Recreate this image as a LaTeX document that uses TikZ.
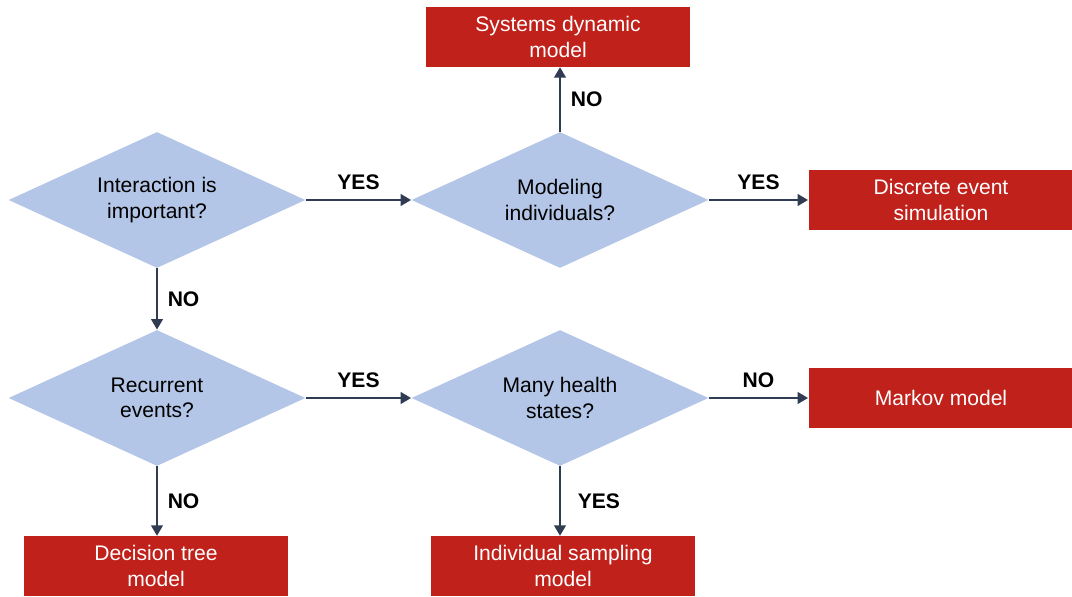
\documentclass[tikz,border=0pt]{standalone}
\usepackage{fontspec}
\setmainfont{Liberation Sans}
\usetikzlibrary{arrows.meta,shapes.geometric}
\definecolor{diamondblue}{HTML}{B4C6E7}
\definecolor{boxred}{HTML}{C0211B}
\definecolor{arrowgray}{HTML}{2F3C52}
\tikzstyle{decision}=[diamond,aspect=2.2,fill=diamondblue,minimum width=5.94cm,minimum height=2.72cm,inner sep=0pt,align=center,font=\fontsize{12}{14.5}\selectfont]
\tikzstyle{model}=[rectangle,fill=boxred,text=white,minimum width=5.3cm,minimum height=1.19cm,inner sep=0pt,align=center,font=\fontsize{12}{14.5}\selectfont]
\tikzstyle{edge} = [draw,line width=1.6pt,arrowgray,-{Triangle[length=6pt,width=6.5pt]}]
\tikzstyle{weight} = [font=\fontsize{12}{14}\selectfont\bfseries,text=black]

\begin{document}
\begin{tikzpicture}[x=0.02cm,y=-0.02cm]
    \useasboundingbox (0,0) rectangle (1072,597);

     \foreach \x/\y/\name/\txt in {157/200/inter/{Interaction is\\important?}, 560/200/indiv/{Modeling\\individuals?}, 157/398/recur/{Recurrent\\events?}, 560/398/many/{Many health\\states?}}
        \node[decision] (\name) at (\x,\y) {\txt};

     \foreach \x/\y/\name/\txt in {558/37/sysdyn/{Systems dynamic\\model}, 941/200/des/{Discrete event\\simulation}, 941/398/markov/{Markov model}, 156/566/dtree/{Decision tree\\model}, 563/566/indsamp/{Individual sampling\\model}}
        \node[model] (\name) at (\x,\y) {\txt};

    \foreach \source/ \dest /\lbl in {inter/indiv/YES, indiv/des/YES, recur/many/YES, many/markov/NO}
        \path[edge] (\source) -- node[weight, above, yshift=2pt] {\lbl} (\dest);

    \foreach \source/ \dest /\lbl in {inter/recur/NO, recur/dtree/NO}
        \path[edge] (\source.south) -- node[weight, right, xshift=2pt] {\lbl} (\source.south |- \dest.north);

    \path[edge] (many.south) -- node[weight, right, xshift=6pt] {YES} (many.south |- indsamp.north);
    \path[edge] (indiv.north) -- node[weight, right, xshift=2pt] {NO} (indiv.north |- sysdyn.south);

\end{tikzpicture}
\end{document}
